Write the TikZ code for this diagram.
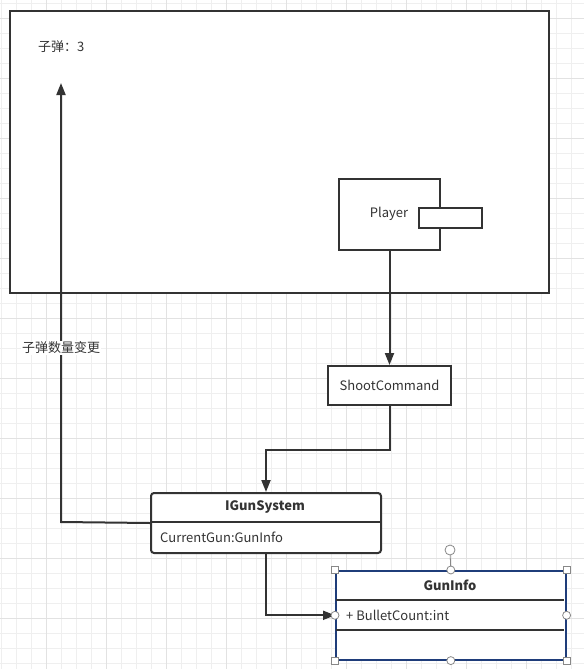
\documentclass[tikz,border=0pt]{standalone}
\usepackage{fontspec}
\setmainfont{Noto Sans CJK SC}
\usetikzlibrary{arrows.meta}
\definecolor{ink}{HTML}{333333}
\definecolor{gridminor}{HTML}{EFEFEF}
\definecolor{gridmajor}{HTML}{E2E2E2}
\definecolor{selblue}{HTML}{1F3D7A}
\definecolor{handle}{HTML}{888888}
\tikzset{
  box/.style={draw=ink, line width=2pt, fill=white, inner sep=0pt, anchor=north west},
  txt/.style={text=ink, font=\fontsize{13}{15}\selectfont, inner sep=0pt},
  boldtxt/.style={txt, font=\fontsize{13}{15}\selectfont\bfseries},
  conn/.style={draw=ink, line width=2pt, -{Triangle[length=12pt,width=9pt]}},
  divider/.style={draw=ink, line width=2pt},
  sqhandle/.style={draw=handle, fill=white, line width=0.8pt, minimum size=7pt, inner sep=0pt, rectangle},
  cihandle/.style={draw=handle, fill=white, line width=0.8pt, minimum size=8pt, inner sep=0pt, circle},
}
\begin{document}
\begin{tikzpicture}[x=1pt,y=-1pt]
\useasboundingbox[fill=white] (0,0) rectangle (584,669);
% grid
\foreach \k in {0,...,38} {
  \draw[gridminor, line width=0.8pt] ({1.7+15*\k},0) -- ({1.7+15*\k},669);
}
\foreach \k in {0,...,44} {
  \draw[gridminor, line width=0.8pt] (0,{3.3+15*\k}) -- (584,{3.3+15*\k});
}
\foreach \k in {0,...,9} {
  \draw[gridmajor, line width=0.8pt] ({46.7+60*\k},0) -- ({46.7+60*\k},669);
}
\foreach \k in {0,...,11} {
  \draw[gridmajor, line width=0.8pt] (0,{18.3+60*\k}) -- (584,{18.3+60*\k});
}
% screen
\node[box, minimum width=539pt, minimum height=282pt] (screen) at (9,10) {};
\node[txt, anchor=west] (bullets) at (38,47) {子弹：3};
% player
\node[box, minimum width=101pt, minimum height=71pt] (player) at (338,178) {};
\node[txt] (playerlbl) at (389,214) {Player};
\node[draw=ink, line width=2pt, fill=white, inner sep=0pt, anchor=north west, minimum width=63pt, minimum height=20pt] (gun) at (418,207) {};
% shoot command
\node[box, minimum width=123pt, minimum height=39pt] (shoot) at (327,365) {};
\node[txt] (shootlbl) at (shoot.center) {ShootCommand};
% IGunSystem
\node[box, rounded corners=3pt, minimum width=230pt, minimum height=60pt] (igun) at (150,492) {};
\draw[divider] (150,522) -- (380,522);
\node[boldtxt] (iguntitle) at (265,507) {IGunSystem};
\node[txt, anchor=west] (igunattr) at (160,537) {CurrentGun:GunInfo};
% GunInfo
\node[draw=selblue, line width=1.6pt, fill=white, inner sep=0pt, anchor=north west, minimum width=230pt, minimum height=89pt] (guninfo) at (335,570) {};
\draw[divider] (336,600) -- (564,600);
\draw[divider] (336,630) -- (564,630);
\node[boldtxt] (guntitle) at (450,585) {GunInfo};
\node[txt, anchor=west] (gunattr) at (346,615) {+ BulletCount:int};
% connectors
\coordinate (bend) at (61,522);
\coordinate (uptip) at (61,83);
\draw[conn] (igun.west) -- (bend) -- (uptip);
\node[txt, fill=white, inner sep=1pt] (changelbl) at (61,348) {子弹数量变更};
\draw[conn] (player.south) -- (shoot.north);
\draw[conn] (shoot.south) -- ++(0,44) -| (igun.north);
\draw[conn] (igun.south) |- (guninfo.west);
% selection handles
\coordinate (rot) at (450,550);
\draw[handle, line width=0.8pt] (rot) -- (guninfo.north);
\node[cihandle, minimum size=10pt] (hrot) at (rot) {};
\node[sqhandle] (h1) at (guninfo.north west) {};
\node[sqhandle] (h2) at (guninfo.north east) {};
\node[sqhandle] (h3) at (guninfo.south west) {};
\node[sqhandle] (h4) at (guninfo.south east) {};
\node[cihandle] (h5) at (guninfo.north) {};
\node[cihandle] (h6) at (guninfo.south) {};
\node[cihandle] (h7) at (guninfo.west) {};
\node[cihandle] (h8) at (guninfo.east) {};
\end{tikzpicture}
\end{document}
